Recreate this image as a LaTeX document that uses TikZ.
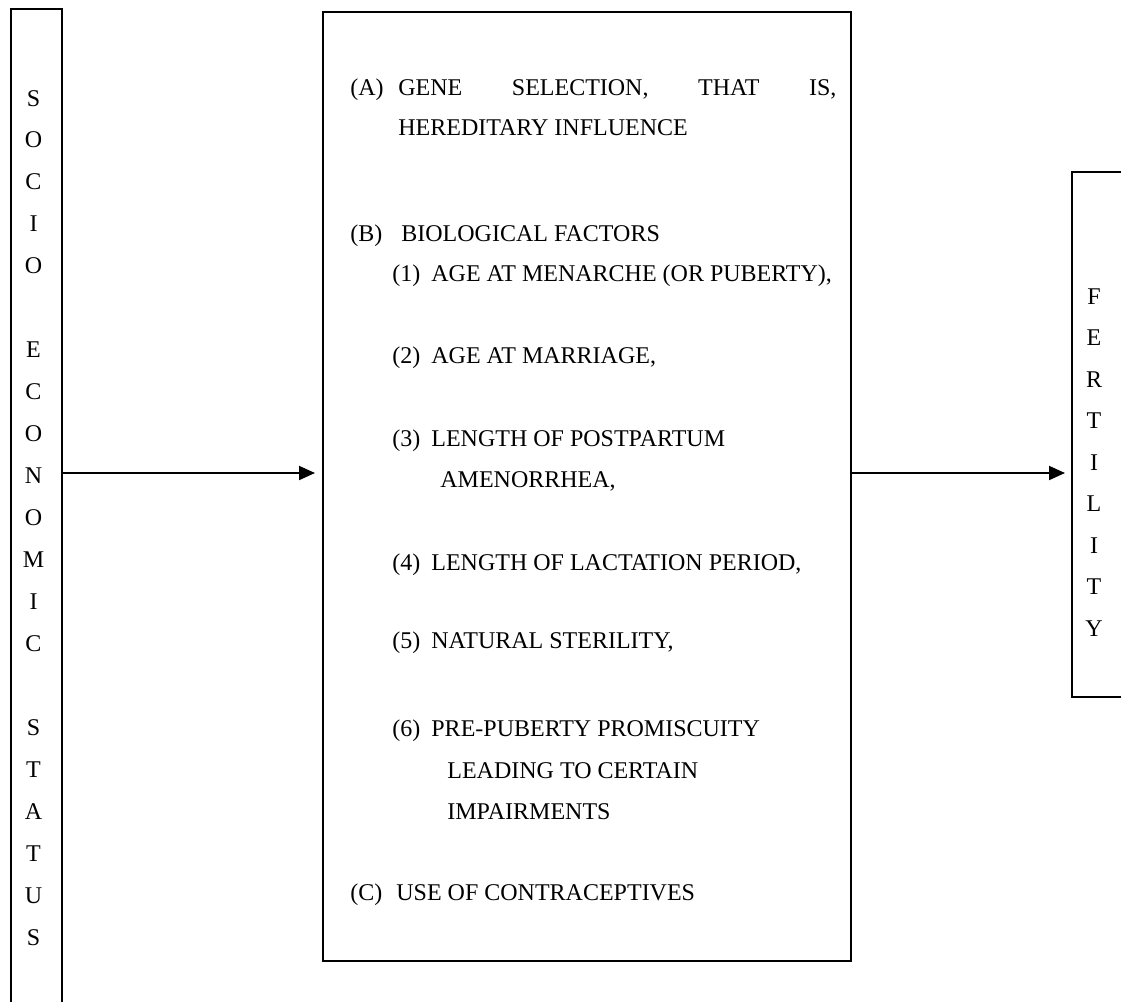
\documentclass[tikz,border=0pt]{standalone}
\usepackage{fontspec}
\setmainfont{Liberation Serif}
\usetikzlibrary{arrows.meta}

\tikzset{
	frame/.style={draw, line width=1.35pt, inner sep=0pt, outer sep=0pt},
	entry/.style={anchor=base west, inner sep=0pt},
	letter/.style={anchor=base, inner sep=0pt},
	flow/.style={->, line width=1pt}
}

\begin{document}
\begin{tikzpicture}[x=0.5pt, y=-0.5pt, >={Triangle[length=8pt,width=7pt]}, font=\fontsize{12}{14}\selectfont]

			\clip (0,0) rectangle (1121,1002);

			% the three boxes
			\node[frame, minimum width=25.5pt, minimum height=510pt] (socio) at (36.5,519) {};
			\node[frame, minimum width=264pt, minimum height=474.5pt] (factors) at (587,486.5) {};
			\node[frame, minimum width=40pt, minimum height=262.5pt] (fertility) at (1112,434.5) {};

			% vertical words
			\foreach \l [count=\k from 0] in {S,O,C,I,O,{},E,C,O,N,O,M,I,C,{},S,T,A,T,U,S}{
				\node[letter] (soc\k) at (33.5,106+\k*41.95) {\l};
				}
			\foreach \l [count=\k from 0] in {F,E,R,T,I,L,I,T,Y}{
				\node[letter] (fer\k) at (1094,304+\k*41.5) {\l};
				}

			% contents of the middle box
			\node[entry] (labA) at (350,95) {(A)};
			\node[entry] (itemA) at (398,95) {\makebox[219pt][s]{GENE SELECTION, THAT IS,}};
			\node[entry] (itemAb) at (398,135) {HEREDITARY INFLUENCE};

			\node[entry] (labB) at (350,241) {(B)};
			\node[entry] (itemB) at (401,241) {BIOLOGICAL FACTORS};
			\foreach \n/\y/\t in {1/281/{AGE AT MENARCHE (OR PUBERTY),}, 2/363/{AGE AT MARRIAGE,}, 3/446/{LENGTH OF POSTPARTUM}, 4/570/{LENGTH OF LACTATION PERIOD,}, 5/648/{NATURAL STERILITY,}, 6/736/{PRE-PUBERTY PROMISCUITY}}{
				\node[entry] (lab\n) at (392,\y) {(\n)};
				\node[entry] (item\n) at (431,\y) {\t};
				}
			\node[entry] (item3b) at (440,487) {AMENORRHEA,};
			\node[entry] (item6b) at (447,778) {LEADING TO CERTAIN};
			\node[entry] (item6c) at (447,819) {IMPAIRMENTS};

			\node[entry] (labC) at (350,900) {(C)};
			\node[entry] (itemC) at (396,900) {USE OF CONTRACEPTIVES};

			% arrows
			\coordinate (level) at (0,473);
			\draw[flow, shorten >=4pt] (socio.east |- level) -- (factors.west |- level);
			\draw[flow, shorten >=3.5pt] (factors.east |- level) -- (fertility.west |- level);

\end{tikzpicture}
\end{document}
